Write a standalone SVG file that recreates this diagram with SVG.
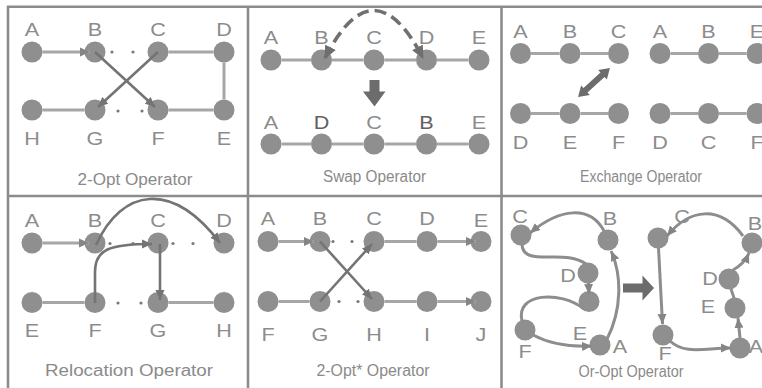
<svg xmlns="http://www.w3.org/2000/svg" width="762" height="388" viewBox="0 0 762 388">
<defs>
<style>
.frame{stroke:#8c8c8c;stroke-width:2.6;fill:none}
.n{fill:#8f8f8f}
.e{stroke:#a6a6a6;stroke-width:3;fill:none}
.a{stroke:#747474;stroke-width:2.6;fill:none}
.c{stroke:#8d8d8d;stroke-width:3;fill:none}
.dot{fill:#7a7a7a}
.lbl{font-family:"Liberation Sans",Arial,sans-serif;font-size:18px;fill:#8c8c8c;text-anchor:middle;transform-box:fill-box;transform-origin:center;transform:scaleX(1.2)}
.dk{fill:#606060}
.ttl{font-family:"Liberation Sans",Arial,sans-serif;font-size:16px;fill:#8a8a8a;text-anchor:middle}
.big{fill:#6c6c6c}
</style>
<marker id="ah" markerUnits="userSpaceOnUse" markerWidth="11" markerHeight="10" refX="10" refY="5" orient="auto"><path d="M0,0.5 L10,5 L0,9.5 z" fill="#747474"/></marker>
<marker id="ahL" markerUnits="userSpaceOnUse" markerWidth="11" markerHeight="10" refX="10" refY="5" orient="auto"><path d="M0,0.5 L10,5 L0,9.5 z" fill="#858585"/></marker>
<marker id="ahD" markerUnits="userSpaceOnUse" markerWidth="14" markerHeight="13" refX="12" refY="6.5" orient="auto-start-reverse"><path d="M0,0.5 L13,6.5 L0,12.5 z" fill="#6e6e6e"/></marker>
</defs>
<rect x="0" y="0" width="762" height="388" fill="#ffffff"/>

<g id="frames">
<line class="frame" x1="7" y1="6.8" x2="762" y2="6.8"/>
<line class="frame" x1="8" y1="6" x2="8" y2="388"/>
<line class="frame" x1="248" y1="6" x2="248" y2="388"/>
<line class="frame" x1="501.5" y1="6" x2="501.5" y2="388"/>
<line class="frame" x1="8" y1="196" x2="762" y2="196"/>
</g>

<!-- Panel 1: 2-Opt -->
<g id="p1">
<g id="p1-A"><circle class="n" cx="32" cy="52" r="10.5"/><text class="lbl" x="32" y="36">A</text></g>
<g id="p1-B"><circle class="n" cx="95" cy="52" r="10.5"/><text class="lbl" x="95" y="36">B</text></g>
<g id="p1-C"><circle class="n" cx="158" cy="52" r="10.5"/><text class="lbl" x="158" y="36">C</text></g>
<g id="p1-D"><circle class="n" cx="224" cy="52" r="10.5"/><text class="lbl" x="224" y="36">D</text></g>
<g id="p1-H"><circle class="n" cx="32" cy="110" r="10.5"/><text class="lbl" x="32" y="145.5">H</text></g>
<g id="p1-G"><circle class="n" cx="95" cy="110" r="10.5"/><text class="lbl" x="95" y="145.5">G</text></g>
<g id="p1-F"><circle class="n" cx="158" cy="110" r="10.5"/><text class="lbl" x="158" y="145.5">F</text></g>
<g id="p1-E"><circle class="n" cx="224" cy="110" r="10.5"/><text class="lbl" x="224" y="145.5">E</text></g>
<text class="ttl" x="135" y="185" textLength="115" lengthAdjust="spacingAndGlyphs">2-Opt Operator</text>
</g>

<!-- Panel 2: Swap -->
<g id="p2">
<g id="p2-A1"><circle class="n" cx="271" cy="60" r="10.5"/><text class="lbl" x="271" y="44.5">A</text></g>
<g id="p2-B1"><circle class="n" cx="321.5" cy="60" r="10.5"/><text class="lbl" x="321.5" y="44.5">B</text></g>
<g id="p2-C1"><circle class="n" cx="374" cy="60" r="10.5"/><text class="lbl" x="374" y="44.5">C</text></g>
<g id="p2-D1"><circle class="n" cx="426.5" cy="60" r="10.5"/><text class="lbl" x="426.5" y="44.5">D</text></g>
<g id="p2-E1"><circle class="n" cx="479" cy="60" r="10.5"/><text class="lbl" x="479" y="44.5">E</text></g>
<g id="p2-A2"><circle class="n" cx="271" cy="144" r="10.5"/><text class="lbl" x="271" y="129.5">A</text></g>
<g id="p2-D2"><circle class="n" cx="321.5" cy="144" r="10.5"/><text class="lbl dk" x="321.5" y="129.5">D</text></g>
<g id="p2-C2"><circle class="n" cx="374" cy="144" r="10.5"/><text class="lbl" x="374" y="129.5">C</text></g>
<g id="p2-B2"><circle class="n" cx="426.5" cy="144" r="10.5"/><text class="lbl dk" x="426.5" y="129.5">B</text></g>
<g id="p2-E2"><circle class="n" cx="479" cy="144" r="10.5"/><text class="lbl" x="479" y="129.5">E</text></g>
<polygon id="p2-down" class="big" points="369.5,80 379.5,80 379.5,91.5 385.5,91.5 374.5,106.5 363,91.5 369.5,91.5"/>
<text class="ttl" x="374.5" y="182" textLength="103" lengthAdjust="spacingAndGlyphs">Swap Operator</text>
</g>

<!-- Panel 3: Exchange -->
<g id="p3">
<g id="p3-A1"><circle class="n" cx="520.5" cy="53.5" r="10.5"/><text class="lbl" x="520.5" y="38">A</text></g>
<g id="p3-B1"><circle class="n" cx="570" cy="53.5" r="10.5"/><text class="lbl" x="570" y="38">B</text></g>
<g id="p3-C1"><circle class="n" cx="618.5" cy="53.5" r="10.5"/><text class="lbl" x="618.5" y="38">C</text></g>
<g id="p3-D1"><circle class="n" cx="520.5" cy="113.5" r="10.5"/><text class="lbl" x="520.5" y="149">D</text></g>
<g id="p3-E1"><circle class="n" cx="570" cy="113.5" r="10.5"/><text class="lbl" x="570" y="149">E</text></g>
<g id="p3-F1"><circle class="n" cx="618.5" cy="113.5" r="10.5"/><text class="lbl" x="618.5" y="149">F</text></g>
<g id="p3-A2"><circle class="n" cx="660" cy="53.5" r="10.5"/><text class="lbl" x="660" y="38">A</text></g>
<g id="p3-B2"><circle class="n" cx="708.5" cy="53.5" r="10.5"/><text class="lbl" x="708.5" y="38">B</text></g>
<g id="p3-E2"><circle class="n" cx="757" cy="53.5" r="10.5"/><text class="lbl" x="757" y="38">E</text></g>
<g id="p3-D2"><circle class="n" cx="660" cy="113.5" r="10.5"/><text class="lbl" x="660" y="149">D</text></g>
<g id="p3-C2"><circle class="n" cx="708.5" cy="113.5" r="10.5"/><text class="lbl" x="708.5" y="149">C</text></g>
<g id="p3-F2"><circle class="n" cx="757" cy="113.5" r="10.5"/><text class="lbl" x="757" y="149">F</text></g>
<polygon id="p3-swap" class="big" transform="translate(594,82.5) rotate(-42.2)" points="-21.5,0 -11.5,-6.5 -11.5,-3 11.5,-3 11.5,-6.5 21.5,0 11.5,6.5 11.5,3 -11.5,3 -11.5,6.5"/>
<text class="ttl" x="641" y="181.5" textLength="122" lengthAdjust="spacingAndGlyphs">Exchange Operator</text>
</g>

<!-- Panel 4: Relocation -->
<g id="p4">
<g id="p4-A"><circle class="n" cx="32" cy="243" r="10.5"/><text class="lbl" x="32" y="227">A</text></g>
<g id="p4-B"><circle class="n" cx="95" cy="243" r="10.5"/><text class="lbl" x="95" y="227">B</text></g>
<g id="p4-C"><circle class="n" cx="158" cy="243" r="10.5"/><text class="lbl" x="158" y="227">C</text></g>
<g id="p4-D"><circle class="n" cx="224" cy="243" r="10.5"/><text class="lbl" x="224" y="227">D</text></g>
<g id="p4-E"><circle class="n" cx="32" cy="302.5" r="10.5"/><text class="lbl" x="32" y="337">E</text></g>
<g id="p4-F"><circle class="n" cx="95" cy="302.5" r="10.5"/><text class="lbl" x="95" y="337">F</text></g>
<g id="p4-G"><circle class="n" cx="158" cy="302.5" r="10.5"/><text class="lbl" x="158" y="337">G</text></g>
<g id="p4-H"><circle class="n" cx="224" cy="302.5" r="10.5"/><text class="lbl" x="224" y="337">H</text></g>
<text class="ttl" x="129" y="376" textLength="168" lengthAdjust="spacingAndGlyphs">Relocation Operator</text>
</g>

<!-- Panel 5: 2-Opt* -->
<g id="p5">
<g id="p5-A"><circle class="n" cx="268" cy="241.5" r="10.5"/><text class="lbl" x="268" y="225.5">A</text></g>
<g id="p5-B"><circle class="n" cx="320" cy="241.5" r="10.5"/><text class="lbl" x="320" y="225.5">B</text></g>
<g id="p5-C"><circle class="n" cx="374" cy="241.5" r="10.5"/><text class="lbl" x="374" y="225.5">C</text></g>
<g id="p5-D"><circle class="n" cx="427" cy="241.5" r="10.5"/><text class="lbl" x="427" y="225.5">D</text></g>
<g id="p5-E"><circle class="n" cx="481" cy="241.5" r="10.5"/><text class="lbl" x="481" y="227.5">E</text></g>
<g id="p5-F"><circle class="n" cx="268" cy="301.5" r="10.5"/><text class="lbl" x="268" y="341">F</text></g>
<g id="p5-G"><circle class="n" cx="320" cy="301.5" r="10.5"/><text class="lbl" x="320" y="341">G</text></g>
<g id="p5-H"><circle class="n" cx="374" cy="301.5" r="10.5"/><text class="lbl" x="374" y="341">H</text></g>
<g id="p5-I"><circle class="n" cx="427" cy="301.5" r="10.5"/><text class="lbl" x="427" y="341">I</text></g>
<g id="p5-J"><circle class="n" cx="481" cy="301.5" r="10.5"/><text class="lbl" x="481" y="341">J</text></g>
<text class="ttl" x="373" y="375.5" textLength="113" lengthAdjust="spacingAndGlyphs">2-Opt* Operator</text>
</g>

<!-- Panel 6: Or-Opt -->
<g id="p6">
<g id="p6-C1"><circle class="n" cx="521" cy="235" r="10.5"/><text class="lbl" x="520" y="223">C</text></g>
<g id="p6-B1"><circle class="n" cx="608" cy="240" r="10.5"/><text class="lbl" x="610" y="225">B</text></g>
<g id="p6-D1"><circle class="n" cx="588" cy="273" r="10.5"/><text class="lbl" x="568" y="282">D</text></g>
<g id="p6-E1"><circle class="n" cx="589" cy="301.5" r="10.5"/><text class="lbl" x="580" y="340">E</text></g>
<g id="p6-F1"><circle class="n" cx="525" cy="330" r="10.5"/><text class="lbl" x="525" y="358">F</text></g>
<g id="p6-A1"><circle class="n" cx="600" cy="345" r="10.5"/><text class="lbl" x="620" y="353">A</text></g>
<g id="p6-C2"><circle class="n" cx="658" cy="238" r="10.5"/><text class="lbl" x="682" y="223">C</text></g>
<g id="p6-B2"><circle class="n" cx="752" cy="243" r="10.5"/><text class="lbl" x="755" y="230">B</text></g>
<g id="p6-D2"><circle class="n" cx="729" cy="279" r="10.5"/><text class="lbl" x="710" y="285">D</text></g>
<g id="p6-E2"><circle class="n" cx="735" cy="308" r="10.5"/><text class="lbl" x="708" y="313">E</text></g>
<g id="p6-F2"><circle class="n" cx="663" cy="335" r="10.5"/><text class="lbl" x="665" y="360">F</text></g>
<g id="p6-A2"><circle class="n" cx="740" cy="348" r="10.5"/><text class="lbl" x="756" y="353">A</text></g>
<polygon id="p6-right" class="big" points="623,283.5 642.5,283.5 642.5,275.5 654,288 642.5,300.5 642.5,292.5 623,292.5"/>
<text class="ttl" x="631" y="376.5" textLength="105" lengthAdjust="spacingAndGlyphs">Or-Opt Operator</text>
</g>

<g id="connectors">
<!-- panel 1 -->
<line class="e" x1="42.5" y1="52" x2="90" y2="52" marker-end="url(#ahL)"/>
<line class="e" x1="168.5" y1="52" x2="213.5" y2="52"/>
<line class="e" x1="224" y1="62.5" x2="224" y2="99.5"/>
<line class="e" x1="213.5" y1="110" x2="168.5" y2="110"/>
<line class="e" x1="42.5" y1="110" x2="84.5" y2="110"/>
<line class="a" x1="95" y1="52" x2="155" y2="107" marker-end="url(#ah)"/>
<line class="a" x1="158" y1="52" x2="98" y2="107" marker-end="url(#ah)"/>
<circle class="dot" cx="112" cy="52" r="1.6"/><circle class="dot" cx="133" cy="52" r="1.6"/>
<circle class="dot" cx="118" cy="111" r="1.6"/><circle class="dot" cx="142" cy="111" r="1.6"/>
<!-- panel 2 -->
<line class="e" x1="281.5" y1="60" x2="311" y2="60"/>
<line class="e" x1="332" y1="60" x2="363.5" y2="60"/>
<line class="e" x1="384.5" y1="60" x2="416" y2="60"/>
<line class="e" x1="437" y1="60" x2="468.5" y2="60"/>
<line class="e" x1="281.5" y1="144" x2="311" y2="144"/>
<line class="e" x1="332" y1="144" x2="363.5" y2="144"/>
<line class="e" x1="384.5" y1="144" x2="416" y2="144"/>
<line class="e" x1="437" y1="144" x2="468.5" y2="144"/>
<path d="M325,58 Q373.5,-37 423,58" fill="none" stroke="#707070" stroke-width="3.6" stroke-dasharray="12 6" marker-start="url(#ahD)" marker-end="url(#ahD)"/>
<!-- panel 3 -->
<line class="e" x1="531" y1="53.5" x2="559.5" y2="53.5"/>
<line class="e" x1="580.5" y1="53.5" x2="608" y2="53.5"/>
<line class="e" x1="670.5" y1="53.5" x2="698" y2="53.5"/>
<line class="e" x1="719" y1="53.5" x2="746.5" y2="53.5"/>
<line class="e" x1="531" y1="113.5" x2="559.5" y2="113.5"/>
<line class="e" x1="580.5" y1="113.5" x2="608" y2="113.5"/>
<line class="e" x1="670.5" y1="113.5" x2="698" y2="113.5"/>
<line class="e" x1="719" y1="113.5" x2="746.5" y2="113.5"/>
<!-- panel 4 -->
<line class="e" x1="42.5" y1="243" x2="89" y2="243" marker-end="url(#ahL)"/>
<line class="e" x1="42.5" y1="302.5" x2="84.5" y2="302.5"/>
<line class="e" x1="168.5" y1="302.5" x2="213.5" y2="302.5"/>
<circle class="dot" cx="110" cy="243.5" r="1.6"/><circle class="dot" cx="133" cy="243.5" r="1.6"/>
<circle class="dot" cx="173" cy="243.5" r="1.6"/><circle class="dot" cx="193" cy="243.5" r="1.6"/>
<circle class="dot" cx="118" cy="303" r="1.6"/><circle class="dot" cx="141" cy="303" r="1.6"/>
<path class="a" d="M96,245 C122,188 172,180 220,243" marker-end="url(#ah)"/>
<path class="a" d="M95,303 L95,272 C95,250 108,244 152,244" marker-end="url(#ah)"/>
<line class="a" x1="160" y1="244" x2="160" y2="300" marker-end="url(#ah)"/>
<!-- panel 5 -->
<line class="e" x1="278.5" y1="241.5" x2="314" y2="241.5" marker-end="url(#ahL)"/>
<line class="e" x1="384.5" y1="241.5" x2="416.5" y2="241.5"/>
<line class="e" x1="437.5" y1="241.5" x2="476" y2="241.5" marker-end="url(#ahL)"/>
<line class="e" x1="278.5" y1="301.5" x2="309.5" y2="301.5"/>
<line class="e" x1="384.5" y1="301.5" x2="416.5" y2="301.5"/>
<line class="e" x1="437.5" y1="301.5" x2="476" y2="301.5" marker-end="url(#ahL)"/>
<line class="a" x1="320" y1="241.5" x2="372" y2="299" marker-end="url(#ah)"/>
<line class="a" x1="320" y1="301.5" x2="372" y2="244" marker-end="url(#ah)"/>
<circle class="dot" cx="333" cy="241.5" r="1.6"/><circle class="dot" cx="352" cy="241.5" r="1.6"/>
<circle class="dot" cx="339" cy="301.5" r="1.6"/><circle class="dot" cx="358" cy="301.5" r="1.6"/>
<!-- panel 6 left -->
<path class="c" d="M604,231 C590,205 560,208 530,233" marker-end="url(#ahL)"/>
<path class="c" d="M522,245 C524,268 565,248 586,264"/>
<line class="c" x1="588.5" y1="283" x2="589" y2="294" marker-end="url(#ahL)"/>
<path class="c" d="M584,309 C560,290 515,293 522,321"/>
<path class="c" d="M533,335 C550,344 570,347 592,346" marker-end="url(#ahL)"/>
<path class="c" d="M607,339 C622,310 622,275 611,251" marker-end="url(#ahL)"/>
<!-- panel 6 right -->
<path class="c" d="M743,236 C720,205 690,208 667,236" marker-end="url(#ahL)"/>
<line class="c" x1="658.5" y1="248" x2="662.5" y2="324" marker-end="url(#ahL)"/>
<path class="c" d="M670,341 C685,355 705,348 731,348" marker-end="url(#ahL)"/>
<line class="c" x1="740" y1="338" x2="738" y2="318" marker-end="url(#ahL)"/>
<line class="c" x1="734" y1="298" x2="731" y2="289"/>
<path class="c" d="M733,270 C742,265 746,260 749,253" marker-end="url(#ahL)"/>
</g>
</svg>
